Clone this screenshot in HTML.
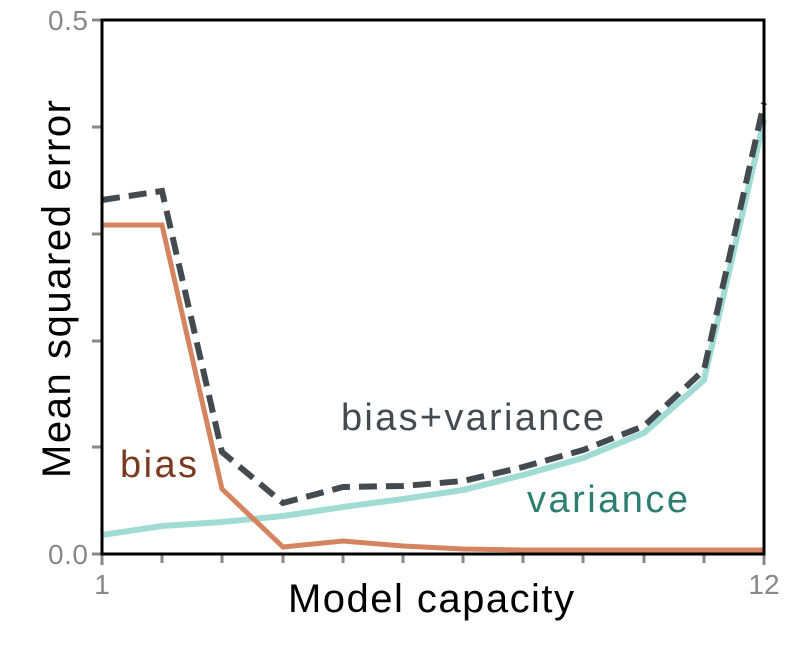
<!DOCTYPE html>
<html><head><style>body{margin:0;background:#fff}</style></head><body>
<svg width="789" height="641" xmlns="http://www.w3.org/2000/svg" font-family="Liberation Sans, DejaVu Sans, sans-serif">
<rect width="789" height="641" fill="#fff"/>
<g stroke="#888" stroke-width="3">
<line x1="92" y1="20" x2="102" y2="20"/><line x1="92" y1="127" x2="102" y2="127"/><line x1="92" y1="234" x2="102" y2="234"/><line x1="92" y1="341" x2="102" y2="341"/><line x1="92" y1="447" x2="102" y2="447"/><line x1="92" y1="554" x2="102" y2="554"/>
<line x1="102" y1="554" x2="102" y2="565"/><line x1="162" y1="554" x2="162" y2="563"/><line x1="222" y1="554" x2="222" y2="563"/><line x1="283" y1="554" x2="283" y2="563"/><line x1="343" y1="554" x2="343" y2="563"/><line x1="403" y1="554" x2="403" y2="563"/><line x1="463" y1="554" x2="463" y2="563"/><line x1="523" y1="554" x2="523" y2="563"/><line x1="583" y1="554" x2="583" y2="563"/><line x1="644" y1="554" x2="644" y2="563"/><line x1="704" y1="554" x2="704" y2="563"/><line x1="764" y1="554" x2="764" y2="565"/>
</g>
<g fill="none" stroke-linejoin="miter">
<polyline stroke="#a0dcd4" stroke-width="6" points="102,535 162,526 222,522 283,516 343,507 403,499 463,490 523,475 583,458 644,433 704,380 764,120"/>
<polyline stroke="#d4845f" stroke-width="5" points="102,225 162,225 222,489 283,547 343,541 403,546 463,549 523,550 583,550 644,550 704,550 764,550"/>
<polyline stroke="#434b50" stroke-width="6" stroke-dasharray="18,9" points="102,200 162,191 222,452 283,503 343,487 403,486 463,481 523,467 583,450 644,426 704,370 764,103"/>
</g>
<rect x="102" y="20" width="662" height="534" fill="none" stroke="#000" stroke-width="3"/>
<g fill="#888" font-size="28">
<text x="88" y="30" text-anchor="end" textLength="40">0.5</text>
<text x="88" y="564" text-anchor="end" textLength="40">0.0</text>
<text x="102" y="594" text-anchor="middle">1</text>
<text x="764" y="594" text-anchor="middle">12</text>
</g>
<text x="288" y="612" font-size="40" fill="#000" textLength="286">Model capacity</text>
<text transform="translate(70,478) rotate(-90)" font-size="40" fill="#000" textLength="378">Mean squared error</text>
<text x="120" y="477" font-size="38" fill="#7a3a22" textLength="77">bias</text>
<text x="341" y="430" font-size="38" fill="#434b50" textLength="263">bias+variance</text>
<text x="527" y="512" font-size="38" fill="#2d7d70" textLength="161">variance</text>
</svg>
</body></html>
